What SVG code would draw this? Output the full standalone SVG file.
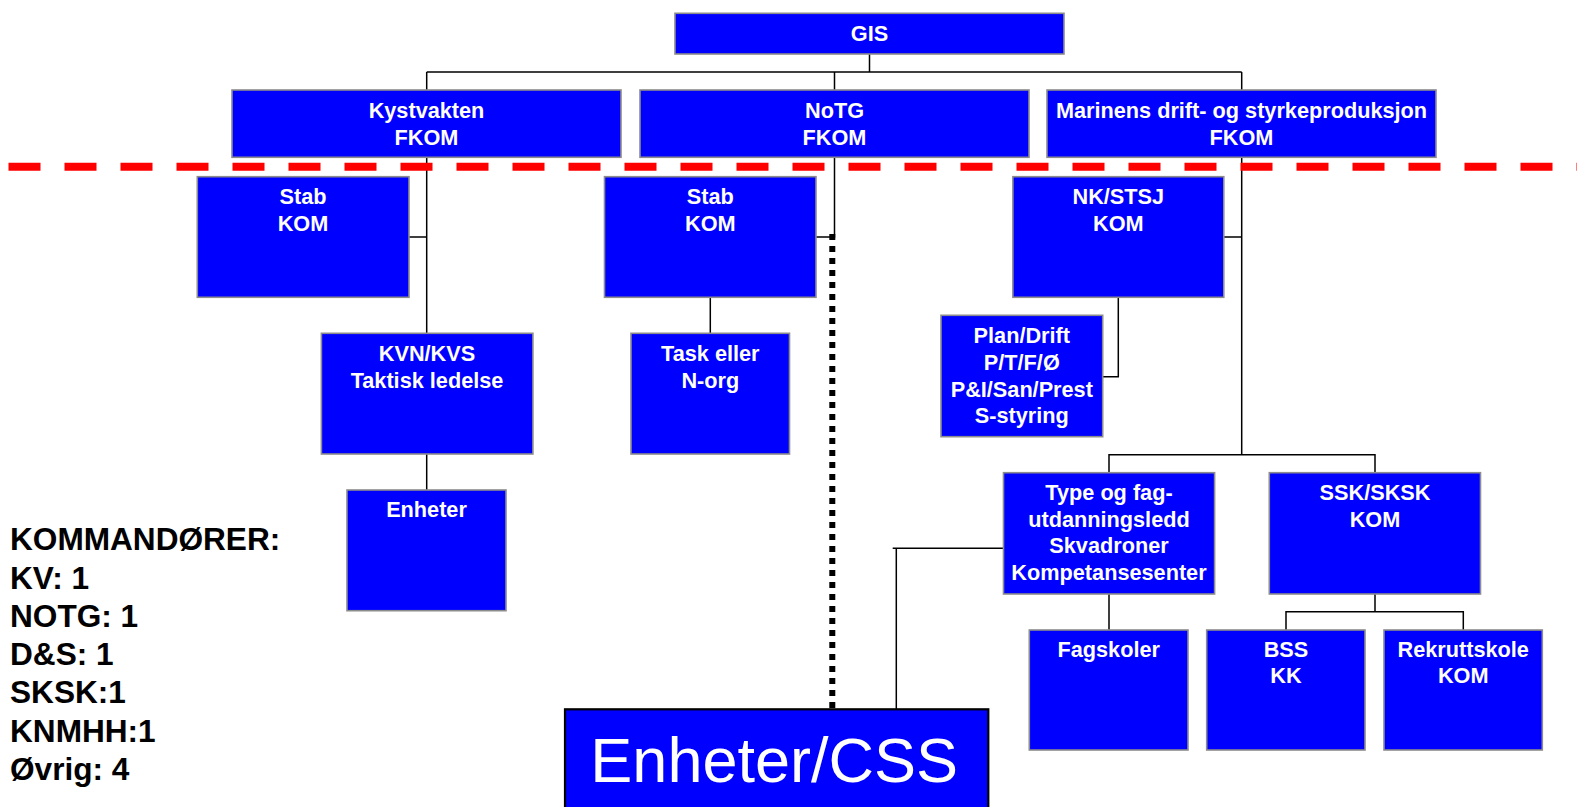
<svg xmlns="http://www.w3.org/2000/svg" width="1577" height="807" viewBox="0 0 1577 807">
<style>
.box{fill:#0000FF;stroke:#8c8c8c;stroke-width:1.6}
.t{font-family:"Liberation Sans",Arial,sans-serif;font-weight:bold;font-size:21.7px;fill:#fff;text-anchor:middle}
.c{fill:none;stroke:#000;stroke-width:1.5}
.legend{font-family:"Liberation Sans",Arial,sans-serif;font-weight:bold;font-size:31.6px;fill:#000}
</style>
<rect width="1577" height="807" fill="#fff"/>
<g id="connectors">
<path class="c" d="M869.5 54V72M426.7 72H1241.7M426.7 72V90M834.5 72V90M1241.7 72V90"/>
<path class="c" d="M426.7 157V333M409 237H426.7M426.7 454V490"/>
<path class="c" d="M834.5 157V237H816M710.3 297V333"/>
<path class="c" d="M1241.7 157V454.7M1223.8 237H1241.7M1118.3 297V376.7H1102.7"/>
<path class="c" d="M1109 472.7V454.7H1375V472.7M1109 594V630M1375 594V611.7M1286 630V611.7H1463.3V630"/>
<path class="c" d="M1008 548.3H892.7M896.3 548.3V712"/>
<line x1="832.3" y1="234" x2="832.3" y2="708" stroke="#000" stroke-width="6" stroke-dasharray="6 6"/>
</g>
<line id="divider" x1="8.5" y1="166.7" x2="1577" y2="166.7" stroke="#FF0000" stroke-width="8" stroke-dasharray="32 24"/>
<g id="gis"><rect class="box" x="675" y="13.3" width="389" height="40.7"/><text class="t" x="869.5" y="40.7">GIS</text></g>
<g id="kystvakten"><rect class="box" x="232" y="90" width="389" height="67.3"/><text class="t" x="426.5" y="118">Kystvakten</text><text class="t" x="426.5" y="145">FKOM</text></g>
<g id="notg"><rect class="box" x="640" y="90" width="389" height="67.3"/><text class="t" x="834.5" y="118">NoTG</text><text class="t" x="834.5" y="145">FKOM</text></g>
<g id="marinens"><rect class="box" x="1047" y="90" width="389" height="67.3"/><text class="t" x="1241.5" y="118">Marinens drift- og styrkeproduksjon</text><text class="t" x="1241.5" y="145">FKOM</text></g>
<g id="stab1"><rect class="box" x="197.3" y="176.7" width="211.7" height="120.6"/><text class="t" x="303" y="204">Stab</text><text class="t" x="303" y="230.7">KOM</text></g>
<g id="stab2"><rect class="box" x="604.5" y="176.7" width="211.5" height="120.6"/><text class="t" x="710.3" y="204">Stab</text><text class="t" x="710.3" y="230.7">KOM</text></g>
<g id="nkstsj"><rect class="box" x="1012.9" y="176.7" width="210.9" height="120.6"/><text class="t" x="1118.3" y="204">NK/STSJ</text><text class="t" x="1118.3" y="230.7">KOM</text></g>
<g id="kvn"><rect class="box" x="321.4" y="333.3" width="211.5" height="120.7"/><text class="t" x="427" y="360.7">KVN/KVS</text><text class="t" x="427" y="387.5">Taktisk ledelse</text></g>
<g id="task"><rect class="box" x="631" y="333.3" width="158.5" height="120.7"/><text class="t" x="710.3" y="360.7">Task eller</text><text class="t" x="710.3" y="387.5">N-org</text></g>
<g id="plan"><rect class="box" x="941" y="315.3" width="161.7" height="121.4"/><text class="t" x="1021.8" y="343.3">Plan/Drift</text><text class="t" x="1021.8" y="370">P/T/F/Ø</text><text class="t" x="1021.8" y="396.7">P&amp;I/San/Prest</text><text class="t" x="1021.8" y="423.2">S-styring</text></g>
<g id="enheter"><rect class="box" x="347" y="490" width="159" height="120.7"/><text class="t" x="426.5" y="517.3">Enheter</text></g>
<g id="type"><rect class="box" x="1003.5" y="472.7" width="211.1" height="121.3"/><text class="t" x="1109" y="500">Type og fag-</text><text class="t" x="1109" y="526.7">utdanningsledd</text><text class="t" x="1109" y="553.3">Skvadroner</text><text class="t" x="1109" y="579.6">Kompetansesenter</text></g>
<g id="ssk"><rect class="box" x="1269.3" y="472.7" width="211.2" height="121.3"/><text class="t" x="1375" y="500">SSK/SKSK</text><text class="t" x="1375" y="526.7">KOM</text></g>
<g id="fagskoler"><rect class="box" x="1029.3" y="630" width="158.7" height="120"/><text class="t" x="1108.7" y="656.7">Fagskoler</text></g>
<g id="bss"><rect class="box" x="1206.7" y="630" width="158.3" height="120"/><text class="t" x="1286" y="656.7">BSS</text><text class="t" x="1286" y="683.3">KK</text></g>
<g id="rekrutt"><rect class="box" x="1384" y="630" width="158.3" height="120"/><text class="t" x="1463.2" y="656.7">Rekruttskole</text><text class="t" x="1463.2" y="683.3">KOM</text></g>
<g id="enheter-css"><rect x="565" y="709.3" width="423.3" height="105" fill="#0000FF" stroke="#000" stroke-width="2.2"/><text x="774.2" y="781.7" font-family="'Liberation Sans',Arial,sans-serif" font-size="63" fill="#fff" text-anchor="middle">Enheter/CSS</text></g>
<g id="legend">
<text class="legend" x="10" y="550">KOMMANDØRER:</text>
<text class="legend" x="10" y="588.5">KV: 1</text>
<text class="legend" x="10" y="626.8">NOTG: 1</text>
<text class="legend" x="10" y="665">D&amp;S: 1</text>
<text class="legend" x="10" y="703.3">SKSK:1</text>
<text class="legend" x="10" y="741.5">KNMHH:1</text>
<text class="legend" x="10" y="779.8">Øvrig: 4</text>
</g>
</svg>
